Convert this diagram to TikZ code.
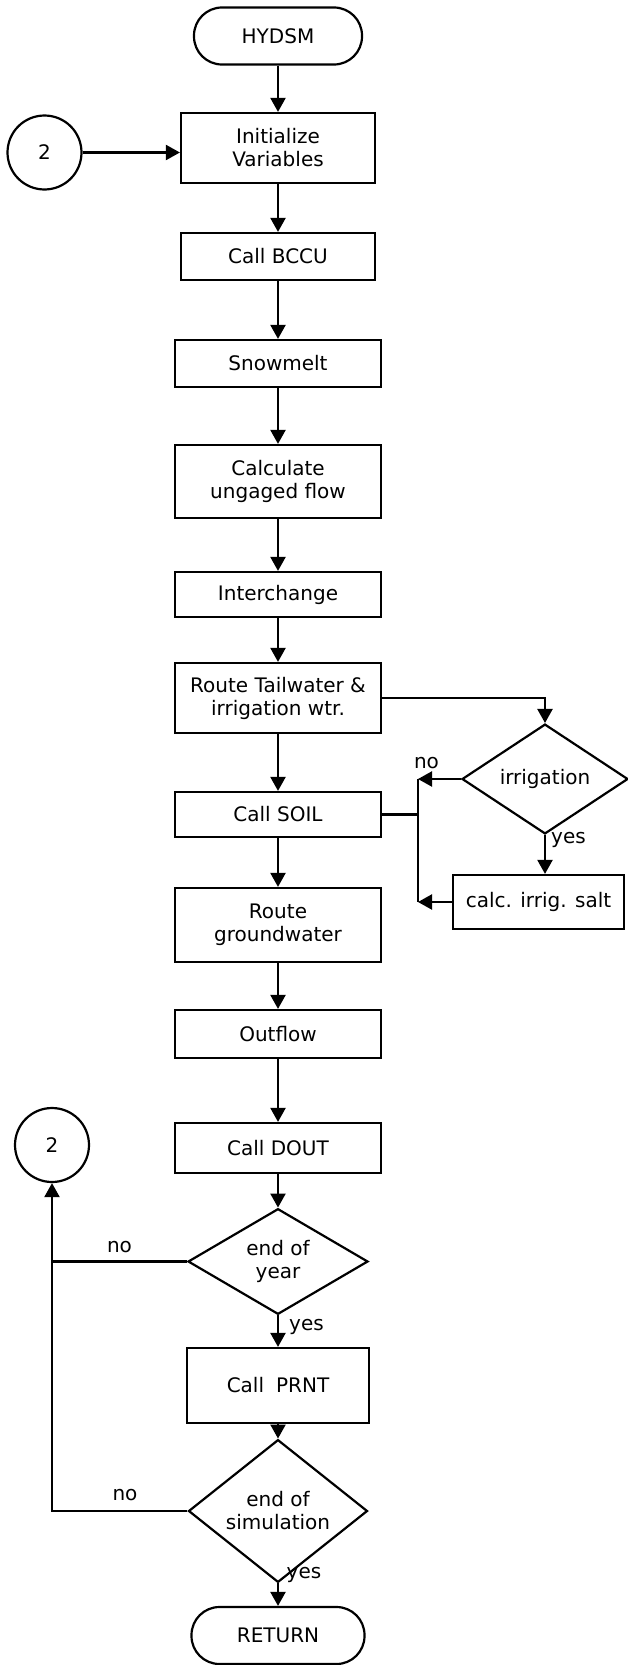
\documentclass[tikz,border=0pt]{standalone}
\usepackage{fontspec}
\setmainfont{DejaVu Sans}
\usetikzlibrary{shapes.geometric,arrows.meta}
\begin{document}
\begin{tikzpicture}[x=1pt,y=-1pt,
  txt/.style={font=\fontsize{20}{23}\selectfont, align=center, inner sep=0pt},
  proc/.style={txt, draw, line width=2.2pt, rectangle, minimum width=206pt},
  term/.style={txt, draw, line width=2.2pt, rectangle, rounded corners=28pt, minimum height=57pt},
  dec/.style={txt, draw, line width=2.2pt, diamond, minimum width=180pt, minimum height=102pt},
  conn/.style={txt, draw, line width=2.2pt, circle, minimum size=74pt},
  lab/.style={txt},
  arr/.style={line width=2.2pt, -{Triangle[length=14pt,width=15pt]}},
  ln/.style={line width=2.2pt}]
\useasboundingbox (0,0) rectangle (627,1665);

\node[term, minimum width=168pt] (hydsm) at (278,36) {HYDSM};
\node[conn] (c1) at (44.5,152.5) {2};
\node[proc, minimum width=194pt, minimum height=70pt] (init) at (278,148) {Initialize\\Variables};
\node[proc, minimum width=194pt, minimum height=47pt] (bccu) at (278,256.5) {Call BCCU};
\node[proc, minimum height=47pt] (snow) at (278,363.5) {Snowmelt};
\node[proc, minimum height=73pt] (calc) at (278,481.5) {Calculate\\ungaged flow};
\node[proc, minimum height=45pt] (inter) at (278,594.5) {Interchange};
\node[proc, minimum height=70pt] (route) at (278,698) {Route Tailwater \&\\irrigation wtr.};
\node[proc, minimum height=45pt] (soil) at (278,814.5) {Call SOIL};
\node[proc, minimum height=74pt] (rgw) at (278,925) {Route\\groundwater};
\node[proc, minimum height=48pt] (outflow) at (278,1034) {Outflow};
\node[proc, minimum height=50pt] (dout) at (278,1148) {Call DOUT};
\node[dec] (eoy) at (278,1261.5) {end of\\year};
\node[proc, minimum width=182pt, minimum height=75pt] (prnt) at (278,1385.5) {Call\hspace{0.6em}PRNT};
\node[dec, minimum width=179pt] (eos) at (278,1511) {end of\\simulation};
\node[term, minimum width=173pt] (ret) at (278,1635.5) {RETURN};
\node[conn] (c2) at (52,1145) {2};

\node[dec, minimum width=166pt, minimum height=98pt] (irr) at (545,779) {irrigation};
\node[proc, minimum width=171pt, minimum height=54pt] (salt) at (538.5,902) {calc. irrig. salt};
\coordinate (jx) at (418,840);

\node[lab] (no1) at (426.5,763) {no};
\node[lab] (yes1) at (568.5,840) {yes};
\node[lab] (no2) at (119.5,1247) {no};
\node[lab] (yes2) at (306.5,1327) {yes};
\node[lab] (no3) at (125,1495) {no};
\node[lab] (yes3) at (304,1575) {yes};

% main flow
\draw[arr] (hydsm) -- (init);
\draw[arr] (c1.east) -- (c1.east -| init.west);
\draw[arr] (init) -- (bccu);
\draw[arr] (bccu) -- (snow);
\draw[arr] (snow) -- (calc);
\draw[arr] (calc) -- (inter);
\draw[arr] (inter) -- (route);
\draw[arr] (route) -- (soil);
\draw[arr] (soil) -- (rgw);
\draw[arr] (rgw) -- (outflow);
\draw[arr] (outflow) -- (dout);
\draw[arr] (dout) -- (eoy);
\draw[arr] (eoy) -- (prnt);
\draw[arr] (prnt) -- (eos);
\draw[arr] (eos) -- (ret);

% irrigation branch
\draw[arr] (route.east) -- (route.east -| irr.north) -- (irr.north);
\draw[arr] (irr.south) -- (irr.south |- salt.north);
\draw[arr] (irr.west) -- (irr.west -| jx);
\draw[arr] (salt.west) -- (salt.west -| jx);
\draw[ln] (irr.west -| jx) -- (salt.west -| jx);
\draw[ln] (soil.east) -- (soil.east -| jx);

% loops back
\draw[arr] (eos.west) -- (eos.west -| c2.south) -- (c2.south);
\draw[ln] (eoy.west) -- (eoy.west -| c2.south);
\end{tikzpicture}
\end{document}
